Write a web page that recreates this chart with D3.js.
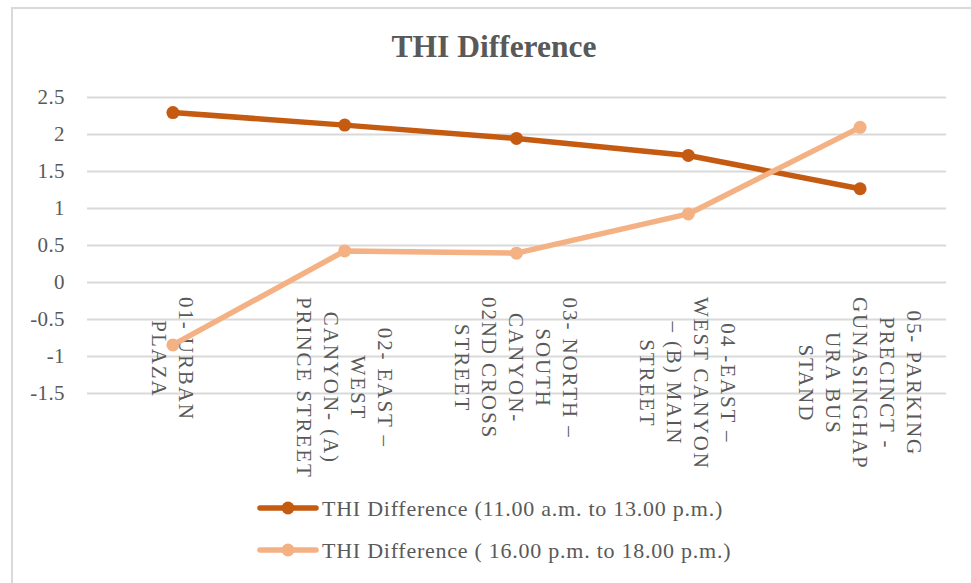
<!DOCTYPE html>
<html>
<head>
<meta charset="utf-8">
<script src="https://cdn.jsdelivr.net/npm/d3@7/dist/d3.min.js"></script>
<style>
  html, body { margin: 0; padding: 0; background: #fff; }
  svg { display: block; }
  text { font-family: "Liberation Serif", "Times New Roman", serif; fill: #595959; }
</style>
</head>
<body>
<svg id="chart" width="971" height="583"></svg>
<script>
// Measurement sites (each label split into its wrapped lines)
const categories = [
  ["01- URBAN", "PLAZA"],
  ["02- EAST \u2013", "WEST", "CANYON- (A)", "PRINCE STREET"],
  ["03- NORTH \u2013", "SOUTH", "CANYON-", "02ND CROSS", "STREET"],
  ["04 -EAST \u2013", "WEST CANYON", "\u2013 (B) MAIN", "STREET"],
  ["05- PARKING", "PRECINCT -", "GUNASINGHAP", "URA BUS", "STAND"]
];

// THI difference, midday window
const middayValues = [2.29, 2.12, 1.94, 1.71, 1.26];
// THI difference, afternoon window
const afternoonValues = [-0.85, 0.42, 0.39, 0.92, 2.09];

const seriesNames = [
  "THI Difference (11.00 a.m. to 13.00 p.m.)",
  "THI Difference ( 16.00 p.m. to 18.00 p.m.)"
];
const seriesColors = ["#C55A11", "#F4B183"];

const yTicks = [-1.5, -1, -0.5, 0, 0.5, 1, 1.5, 2, 2.5];
const chartTitle = "THI Difference";

const svg = d3.select("#chart");
const W = 971, H = 583;

// Outer chart frame
svg.append("rect")
  .attr("x", 12).attr("y", 8)
  .attr("width", W + 20).attr("height", H + 20)
  .attr("fill", "#fff")
  .attr("stroke", "#d9d9d9").attr("stroke-width", 2);

// Title
svg.append("text")
  .attr("x", 494).attr("y", 57)
  .attr("text-anchor", "middle")
  .style("font-size", "31.5px").style("font-weight", "bold")
  .text(chartTitle);

const plot = { left: 87, right: 946, top: 97, bottom: 393 };

const x = d3.scaleBand()
  .domain(d3.range(categories.length))
  .range([plot.left, plot.right]);

const y = d3.scaleLinear()
  .domain([-1.5, 2.5])
  .range([plot.bottom, plot.top]);

// Horizontal gridlines + tick labels via axis
const yAxis = d3.axisLeft(y)
  .tickValues(yTicks)
  .tickSize(-(plot.right - plot.left))
  .tickPadding(22)
  .tickFormat(d => String(d));

const gy = svg.append("g")
  .attr("transform", `translate(${plot.left},0)`)
  .call(yAxis);
gy.attr("font-family", null).attr("font-size", null);
gy.select(".domain").remove();
gy.selectAll(".tick line").attr("stroke", "#d9d9d9").attr("stroke-width", 2);
gy.selectAll(".tick text")
  .attr("fill", "#595959")
  .style("font-size", "21px")
  .style("letter-spacing", "0.4px")
  .style("font-family", "'Liberation Serif', 'Times New Roman', serif");

// Category labels, rotated to read top-to-bottom
const labelTop = 297;
const lineGap = 27;
categories.forEach((lines, i) => {
  const cx = x(i) + x.bandwidth() / 2;
  const g = svg.append("g")
    .attr("transform", `translate(${cx},${labelTop}) rotate(90)`);
  const n = lines.length;
  const texts = lines.map((ln, k) =>
    g.append("text")
      .attr("y", (k - (n - 1) / 2) * lineGap)
      .attr("dy", "0.35em")
      .style("font-size", "21px")
      .style("letter-spacing", "1.9px")
      .text(ln)
  );
  const lens = texts.map(t => t.node().getComputedTextLength());
  const maxLen = d3.max(lens);
  texts.forEach(t => t.attr("x", maxLen / 2).attr("text-anchor", "middle"));
});

// Series lines and markers
const series = [middayValues, afternoonValues];
const line = d3.line()
  .x((d, i) => x(i) + x.bandwidth() / 2)
  .y(d => y(d));

series.forEach((vals, s) => {
  svg.append("path")
    .datum(vals)
    .attr("d", line)
    .attr("fill", "none")
    .attr("stroke", seriesColors[s])
    .attr("stroke-width", 5.5)
    .attr("stroke-linejoin", "round")
    .attr("stroke-linecap", "round");
  svg.append("g").selectAll("circle")
    .data(vals)
    .join("circle")
    .attr("cx", (d, i) => x(i) + x.bandwidth() / 2)
    .attr("cy", d => y(d))
    .attr("r", 6.5)
    .attr("fill", seriesColors[s]);
});

// Legend
const legendY = [508, 550];
seriesNames.forEach((name, s) => {
  const g = svg.append("g").attr("transform", `translate(0,${legendY[s]})`);
  g.append("line")
    .attr("x1", 260).attr("x2", 316)
    .attr("stroke", seriesColors[s]).attr("stroke-width", 5.5)
    .attr("stroke-linecap", "round");
  g.append("circle").attr("cx", 288).attr("r", 6.5).attr("fill", seriesColors[s]);
  g.append("text")
    .attr("x", 322).attr("dy", "0.35em")
    .style("font-size", "22px")
    .style("letter-spacing", "0.75px")
    .text(name);
});
</script>
</body>
</html>
